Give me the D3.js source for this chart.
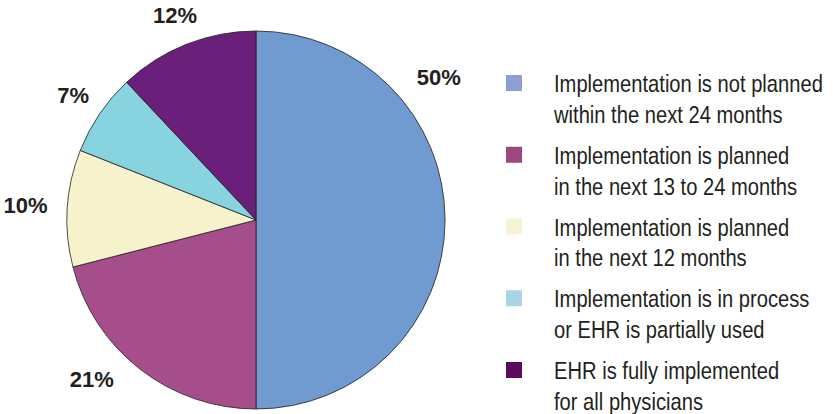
<!DOCTYPE html>
<html>
<head>
<meta charset="utf-8">
<script src="https://cdn.jsdelivr.net/npm/d3@7"></script>
<style>
  body { margin: 0; background: #fff; }
  .pct { font-family: "Liberation Sans", Arial, sans-serif; font-weight: bold; font-size: 22px; fill: #231f20; }
  .legtext { font-family: "Liberation Sans", Arial, sans-serif; font-size: 24px; fill: #231f20; }
</style>
</head>
<body>
<div id="chart"></div>
<script>
// shares in pie order, clockwise from 12 o'clock
var categories = [
  "Implementation is not planned|within the next 24 months",
  "Implementation is planned|in the next 13 to 24 months",
  "Implementation is planned|in the next 12 months",
  "Implementation is in process|or EHR is partially used",
  "EHR is fully implemented|for all physicians"
];
var shares = [50, 21, 10, 7, 12];
var sliceColors = ["#6f9bd1", "#a64d8c", "#f5f2cc", "#88d3e0", "#6a1f7a"];
var legendColors = ["#8e9fcf", "#9e477e", "#f6f3d4", "#a8d4e3", "#5c0a5e"];

var width = 833, height = 414;
var cx = 256, cy = 220, radius = 189;

var svg = d3.select("#chart").append("svg").attr("width", width).attr("height", height);

var pie = d3.pie().sort(null).value(function(d){ return d; });
var arcs = pie(shares);
var arc = d3.arc().innerRadius(0).outerRadius(radius);

var g = svg.append("g").attr("transform", "translate(" + cx + "," + cy + ")");

g.selectAll("path")
  .data(arcs)
  .enter().append("path")
    .attr("d", arc)
    .attr("fill", function(d, i){ return sliceColors[i]; })
    .attr("stroke", "#231f20")
    .attr("stroke-width", 0.8);

// labels sit outside the pie; the big slice label is pulled up toward the top
var labelNudge = [-38, 8, 0, 0, 0];   // degrees
var labelRad = [232, 229, 231, 221, 220];
function labelPos(d, i){
  var a = (d.startAngle + d.endAngle) / 2 + labelNudge[i] * Math.PI / 180;
  return [Math.sin(a) * labelRad[i], -Math.cos(a) * labelRad[i]];
}
g.selectAll("text.pct")
  .data(arcs)
  .enter().append("text")
    .attr("class", "pct")
    .attr("text-anchor", "middle")
    .attr("dominant-baseline", "central")
    .attr("x", function(d, i){ return labelPos(d, i)[0]; })
    .attr("y", function(d, i){ return labelPos(d, i)[1]; })
    .text(function(d){ return d.data + "%"; });

// legend
var legY = d3.scalePoint().domain(d3.range(categories.length)).range([83, 370]);
var leg = svg.append("g").selectAll("g")
  .data(categories)
  .enter().append("g")
    .attr("transform", function(d, i){ return "translate(506," + legY(i) + ")"; });

leg.append("rect")
  .attr("x", 0).attr("y", -8)
  .attr("width", 16).attr("height", 16)
  .attr("fill", function(d, i){ return legendColors[i]; });

// condensed look: squeeze a regular sans horizontally
leg.append("text")
  .attr("class", "legtext")
  .attr("transform", "translate(48,0) scale(0.84,1)")
  .selectAll("tspan")
  .data(function(d){ return d.split("|"); })
  .enter().append("tspan")
    .attr("x", 0)
    .attr("y", function(d, j){ return 9 + j * 31; })
    .text(function(d){ return d; });
</script>
</body>
</html>
